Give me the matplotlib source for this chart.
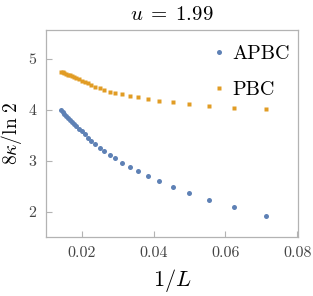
import numpy as np
import matplotlib
matplotlib.use("Agg")
import matplotlib.pyplot as plt

plt.rcParams['font.family'] = 'serif'
plt.rcParams['font.serif'] = ['cmr10']
plt.rcParams['mathtext.fontset'] = 'cm'
plt.rcParams['axes.unicode_minus'] = False

# system sizes L = 14, 16, ..., 70
L = np.arange(14, 72, 2)
apbc = [1.92, 2.09, 2.23, 2.37, 2.49, 2.60, 2.71, 2.80, 2.89, 2.97,
        3.05, 3.12, 3.19, 3.26, 3.33, 3.40, 3.46, 3.52, 3.58, 3.63,
        3.68, 3.73, 3.77, 3.81, 3.85, 3.89, 3.93, 3.97, 4.00]
pbc = [4.01, 4.04, 4.08, 4.11, 4.15, 4.18, 4.22, 4.25, 4.28, 4.31,
       4.33, 4.36, 4.40, 4.43, 4.46, 4.49, 4.52, 4.55, 4.57, 4.60,
       4.62, 4.64, 4.66, 4.68, 4.69, 4.71, 4.72, 4.74, 4.75]
xticks = [0.02, 0.04, 0.06, 0.08]
yticks = [2, 3, 4, 5]

blue = '#5E81B5'
orange = '#E19C24'
frame = '#b3b3b3'

fig = plt.figure(figsize=(3.13, 2.96), dpi=100)
ax = fig.add_axes([0.147, 0.2, 0.804, 0.699])

x = 1.0 / L
ax.plot(x, apbc, 'o', color=blue, ms=3.6, mec='none', label='APBC')
ax.plot(x, pbc, 's', color=orange, ms=3.2, mec='none', label='PBC')

ax.set_xlim(0.0101, 0.0801)
ax.set_ylim(1.515, 5.57)
ax.set_xticks(xticks)
ax.set_xticklabels([f'{t:.2f}' for t in xticks])
ax.set_yticks(yticks)
ax.tick_params(direction='in', length=4, width=0.8, color=frame,
               labelsize=11.5, labelcolor='#444444', pad=7)
for s in ax.spines.values():
    s.set_color(frame)
    s.set_linewidth(0.9)

ax.set_title(r'$u\;=\;1.99$', fontsize=15, pad=7)
ax.set_xlabel(r'$1/L$', fontsize=16, labelpad=5)
ax.set_ylabel(r'$8\kappa/\ln\,2$', fontsize=14, labelpad=3)

ax.legend(loc='upper left', bbox_to_anchor=(0.63, 0.975), frameon=False,
          fontsize=14.5, handlelength=0.4, handletextpad=0.5,
          labelspacing=0.9, borderpad=0, markerscale=1.0)

fig.savefig('out.png', dpi=100)
